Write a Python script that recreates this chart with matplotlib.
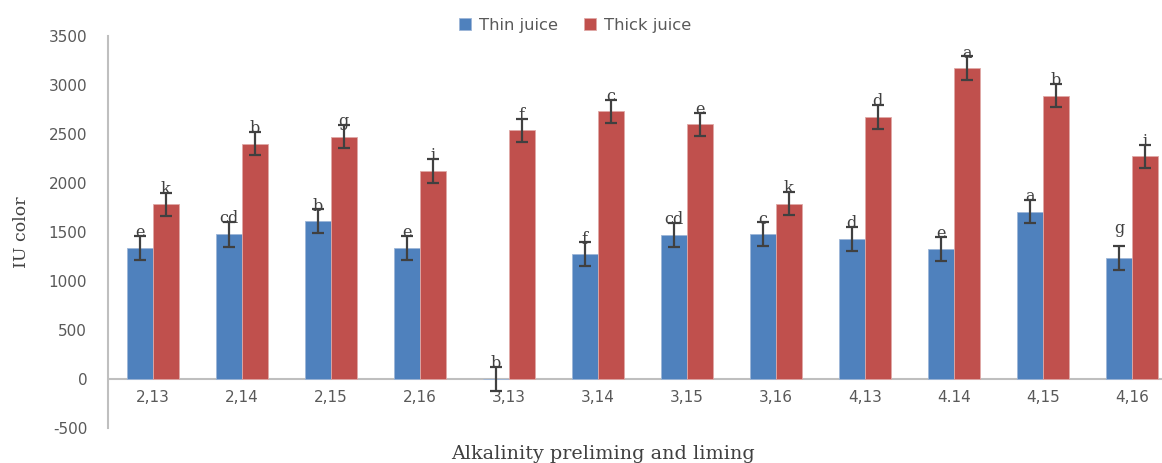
import numpy as np
import matplotlib.pyplot as plt
import matplotlib as mpl

mpl.rc('font', family='DejaVu Sans')
mpl.rc('axes', unicode_minus=False)

categories = ['2,13', '2,14', '2,15', '2,16', '3,13', '3,14',
              '3,15', '3,16', '4,13', '4.14', '4,15', '4,16']
thin = [1337, 1476, 1609, 1337, 0, 1272, 1469, 1476, 1429, 1327, 1707, 1235]
thick = [1782, 2401, 2473, 2122, 2537, 2731, 2599, 1789, 2673, 3170, 2891, 2272]
thin_err = [122, 125, 122, 122, 120, 122, 122, 122, 120, 122, 120, 124]
thick_err = [115, 120, 120, 120, 118, 120, 118, 120, 120, 122, 120, 118]
thin_letters = ['e', 'cd', 'b', 'e', 'b', 'f', 'cd', 'c', 'd', 'e', 'a', 'g']
thick_letters = ['k', 'b', 'g', 'i', 'f', 'c', 'e', 'k', 'd', 'a', 'b', 'i']

blue = '#4F81BD'
red = '#C0504D'
grey_txt = '#595959'
dark = '#404040'

W, H = 1162, 463
fig = plt.figure(figsize=(W / 100, H / 100), dpi=100)
ax = fig.add_axes([108 / W, (H - 428) / H, (W - 108) / W, (428 - 36) / H])

x = np.arange(len(categories))
bw = 0.292
ax.bar(x - bw / 2, thin, bw, color=blue, edgecolor='#9DB6D8', linewidth=0.6,
       label='Thin juice', zorder=2)
ax.bar(x + bw / 2, thick, bw, color=red, edgecolor='#E0A9A7', linewidth=0.6,
       label='Thick juice', zorder=2)
ekw = dict(fmt='none', ecolor=dark, elinewidth=1.6, capsize=4.4, capthick=1.6, zorder=3)
ax.errorbar(x - bw / 2, thin, yerr=thin_err, **ekw)
ax.errorbar(x + bw / 2, thick, yerr=thick_err, **ekw)

# significance letters sit on the error-bar caps
for i in range(len(categories)):
    extra = 140 if i == 11 else 0
    ax.text(x[i] - bw / 2, thin[i] + thin_err[i] - 12 + extra, thin_letters[i],
            ha='center', va='baseline', family='DejaVu Serif', fontsize=11.5,
            color=dark, zorder=4)
    ax.text(x[i] + bw / 2, thick[i] + thick_err[i] - 12, thick_letters[i],
            ha='center', va='baseline', family='DejaVu Serif', fontsize=11.5,
            color=dark, zorder=4)

ax.set_xlim(-0.5, (W - 153) / 89.0)
ax.set_ylim(-500, 3500)
ax.set_yticks(np.arange(-500, 3501, 500))
ax.axhline(0, color='#BFBFBF', linewidth=1.5, zorder=1)

ax.set_xticks(x)
ax.set_xticklabels(categories)
ax.tick_params(axis='both', length=0, labelsize=11, labelcolor=grey_txt)
ax.tick_params(axis='y', pad=15)
# category labels hang under the zero line, not the plot bottom
for lab in ax.get_xticklabels():
    lab.set_transform(mpl.transforms.blended_transform_factory(ax.transData, ax.transData)
                      + mpl.transforms.ScaledTranslation(0, -11 / 100, fig.dpi_scale_trans))
    lab.set_y(0)
    lab.set_va('top')

for s in ['top', 'right', 'bottom']:
    ax.spines[s].set_visible(False)
ax.spines['left'].set_color('#BFBFBF')
ax.spines['left'].set_linewidth(1.5)

fig.text(603 / W, 1 - 454 / H, 'Alkalinity preliming and liming', ha='center',
         va='center', family='DejaVu Serif', fontsize=13.8, color=dark)
fig.text(22 / W, 1 - 232 / H, 'IU color', ha='center', va='center', rotation=90,
         family='DejaVu Serif', fontsize=12.5, color=dark)

ax.legend(loc='upper center', bbox_to_anchor=(575 / W, 1 - 10 / H),
          bbox_transform=fig.transFigure, ncol=2, frameon=False, fontsize=11.8,
          labelcolor=grey_txt, handlelength=0.75, handleheight=0.75,
          handletextpad=0.45, columnspacing=1.6, borderpad=0)

fig.savefig('out.png', dpi=100)
